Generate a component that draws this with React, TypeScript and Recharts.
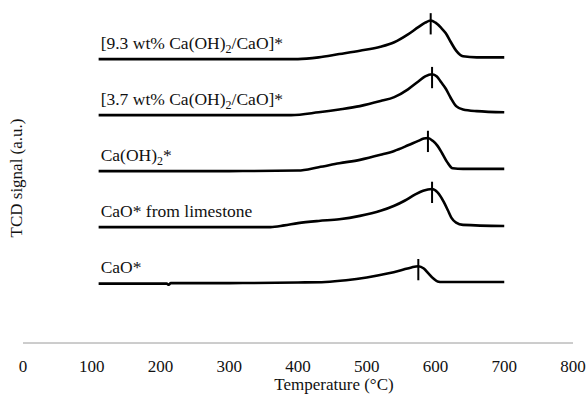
import {
  Line,
  LineChart,
  ReferenceDot,
  ReferenceLine,
  XAxis,
  YAxis,
} from "recharts";

// temperature (°C) and TCD signal (a.u., above each curve's own baseline)
const temps93 = [110, 300, 400, 430, 460, 490, 520, 540, 560, 575, 585, 593, 600, 608, 615, 622, 630, 640, 660, 700];
const signal93 = [0, 0, 0, 0.03, 0.09, 0.15, 0.22, 0.3, 0.44, 0.57, 0.65, 0.69, 0.65, 0.56, 0.46, 0.31, 0.15, 0.05, 0.03, 0.03];

const temps37 = [110, 300, 390, 430, 460, 490, 520, 540, 560, 575, 585, 595, 602, 608, 615, 622, 630, 640, 660, 700];
const signal37 = [0, 0, 0, 0.05, 0.1, 0.16, 0.25, 0.32, 0.46, 0.6, 0.69, 0.73, 0.69, 0.59, 0.47, 0.31, 0.16, 0.1, 0.07, 0.05];

const tempsCaOH2 = [110, 300, 400, 430, 460, 490, 520, 540, 560, 575, 583, 589, 596, 603, 610, 617, 625, 640, 700];
const signalCaOH2 = [0, 0, 0.01, 0.07, 0.14, 0.2, 0.29, 0.36, 0.46, 0.54, 0.58, 0.59, 0.54, 0.45, 0.31, 0.16, 0.05, 0.04, 0.04];

const tempsLime = [110, 300, 360, 380, 400, 430, 460, 490, 520, 540, 555, 570, 582, 595, 603, 612, 618, 623, 630, 640, 700];
const signalLime = [0, 0, 0, 0.03, 0.07, 0.11, 0.14, 0.2, 0.29, 0.38, 0.47, 0.58, 0.65, 0.68, 0.62, 0.45, 0.3, 0.17, 0.08, 0.04, 0.02];

const tempsCaO = [110, 209, 212, 215, 300, 400, 440, 470, 500, 530, 550, 565, 575, 583, 590, 597, 603, 610, 700];
const signalCaO = [-0.01, -0.01, -0.03, 0, 0, 0.01, 0.02, 0.05, 0.1, 0.17, 0.23, 0.28, 0.3, 0.26, 0.17, 0.08, 0.03, 0.02, 0.02];

const labels = ["[9.3 wt% Ca(OH)_2/CaO]*", "[3.7 wt% Ca(OH)_2/CaO]*", "Ca(OH)_2*", "CaO* from limestone", "CaO*"];
const offsets = [5, 4, 3, 2, 1];
const peakTemps = [593, 595, 589, 595, 575];
const xTicks = [0, 100, 200, 300, 400, 500, 600, 700, 800];

const FONT = "Liberation Serif";

const series = [
  [temps93, signal93],
  [temps37, signal37],
  [tempsCaOH2, signalCaOH2],
  [tempsLime, signalLime],
  [tempsCaO, signalCaO],
].map(([temps, sig], i) => ({
  name: labels[i],
  offset: offsets[i],
  peakT: peakTemps[i],
  peakV: sig[temps.indexOf(peakTemps[i])] + offsets[i],
  rows: temps.map((t, j) => ({ t, v: sig[j] + offsets[i] })),
}));

function CurveLabel({ viewBox, text }: any) {
  const [main, rest] = text.split("_");
  return (
    <text x={viewBox.x} y={viewBox.y - 10} fontFamily={FONT} fontSize={17.5} fill="#111">
      {main}
      {rest !== undefined && (
        <>
          <tspan dy={4} fontSize={12}>{rest[0]}</tspan>
          <tspan dy={-4}>{rest.slice(1)}</tspan>
        </>
      )}
    </text>
  );
}

export default function App() {
  return (
    <div
      style={{
        position: "absolute",
        left: 0,
        top: 0,
        width: 587,
        height: 394,
        background: "#fff",
        fontFamily: FONT,
      }}
    >
      <LineChart width={587} height={394} margin={{ top: 7, right: 14, left: 0, bottom: 0 }}>
        <XAxis
          dataKey="t"
          type="number"
          domain={[0, 800]}
          ticks={xTicks}
          allowDuplicatedCategory={false}
          height={51}
          tickLine={false}
          tickSize={0}
          tickMargin={17}
          axisLine={{ stroke: "#9a9a9a", strokeWidth: 1 }}
          tick={{ fontFamily: FONT, fontSize: 17, fill: "#111" }}
          interval={0}
          label={{
            content: () => (
              <text x={334} y={390} textAnchor="middle" fontFamily={FONT} fontSize={17} fill="#111">
                Temperature (°C)
              </text>
            ),
          }}
        />
        <YAxis
          type="number"
          domain={[-0.07, 5.93]}
          allowDataOverflow
          width={23}
          tick={false}
          tickLine={false}
          axisLine={false}
          label={{
            content: () => (
              <text
                x={16}
                y={178}
                transform="rotate(-90 16 178)"
                textAnchor="middle"
                dominantBaseline="central"
                fontFamily={FONT}
                fontSize={17}
                fill="#111"
              >
                TCD signal (a.u.)
              </text>
            ),
          }}
        />
        {series.map((s) => (
          <Line
            key={s.name}
            data={s.rows}
            dataKey="v"
            type="monotone"
            stroke="#000"
            strokeWidth={2.6}
            dot={false}
            activeDot={false}
            isAnimationActive={false}
          />
        ))}
        {series.map((s) => (
          <ReferenceLine
            key={`pk-${s.name}`}
            segment={[
              { x: s.peakT, y: s.peakV + 0.13 },
              { x: s.peakT, y: s.peakV - 0.25 },
            ]}
            stroke="#000"
            strokeWidth={2}
            ifOverflow="visible"
          />
        ))}
        {series.map((s) => (
          <ReferenceDot
            key={`lb-${s.name}`}
            x={113}
            y={s.offset}
            r={0.01}
            fill="none"
            stroke="none"
            ifOverflow="visible"
            label={{ content: (p: any) => <CurveLabel viewBox={p.viewBox} text={s.name} /> }}
          />
        ))}
      </LineChart>
    </div>
  );
}
